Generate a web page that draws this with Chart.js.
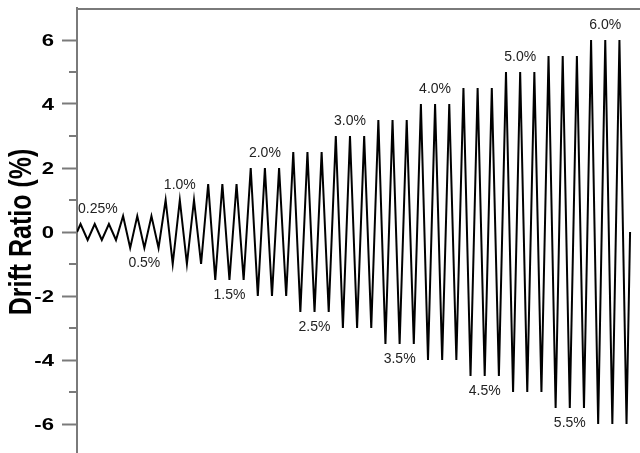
<!DOCTYPE html>
<html>
<head>
<meta charset="utf-8">
<script src="https://cdn.jsdelivr.net/npm/chart.js@4/dist/chart.umd.min.js"></script>
<style>
  html, body { margin: 0; padding: 0; background: #ffffff; }
  #wrap { width: 640px; height: 453px; }
</style>
</head>
<body>
<div id="wrap"><canvas id="c" width="640" height="453"></canvas></div>
<script>
// Cyclic loading protocol: drift amplitude per level and number of cycles at each level
const levelLabels = ['0.25%', '0.5%', '1.0%', '1.5%', '2.0%', '2.5%', '3.0%', '3.5%', '4.0%', '4.5%', '5.0%', '5.5%', '6.0%'];
const amplitudes = [0.25, 0.5, 1.0, 1.5, 2.0, 2.5, 3.0, 3.5, 4.0, 4.5, 5.0, 5.5, 6.0];
const cyclesPerLevel = [3, 3, 3, 3, 3, 3, 3, 3, 3, 3, 3, 3, 3];
const yTickValues = [-6, -5, -4, -3, -2, -1, 0, 1, 2, 3, 4, 5, 6];
const yMajorLabels = [-6, -4, -2, 0, 2, 4, 6];

// Drift history: start at zero, peak / trough of every cycle, back to zero at the end
const history = [{ x: 0, y: 0 }];
const labelAnchors = [];
let cycle = 0;
amplitudes.forEach((amp, i) => {
  const n = cyclesPerLevel[i];
  for (let k = 0; k < n; k++) {
    history.push({ x: cycle + k + 0.25, y: amp });
    history.push({ x: cycle + k + 0.75, y: -amp });
  }
  const mid = cycle + Math.floor(n / 2);
  const up = i % 2 === 0;
  labelAnchors.push({ text: levelLabels[i], x: up ? mid + 0.25 : mid + 0.75, y: up ? amp : -amp, up });
  cycle += n;
});
history.push({ x: cycle, y: 0 });

const axisGray = '#7a7a7a';
const boldFont = '"Liberation Sans", Arial, sans-serif';

const decorations = {
  id: 'decorations',
  afterDraw(chart) {
    const { ctx, chartArea, scales } = chart;
    const ys = scales.y, xs = scales.x;
    ctx.save();
    // top frame line
    ctx.strokeStyle = axisGray;
    ctx.lineWidth = 2;
    ctx.beginPath();
    ctx.moveTo(chartArea.left, chartArea.top + 1);
    ctx.lineTo(chartArea.right, chartArea.top + 1);
    ctx.stroke();
    // minor ticks on odd values
    yTickValues.filter(v => v % 2 !== 0).forEach(v => {
      const py = Math.round(ys.getPixelForValue(v));
      ctx.beginPath();
      ctx.moveTo(chartArea.left - 8, py);
      ctx.lineTo(chartArea.left, py);
      ctx.stroke();
    });
    // wide bold tick labels
    ctx.fillStyle = '#000000';
    ctx.font = 'bold 17px ' + boldFont;
    ctx.textAlign = 'right';
    ctx.textBaseline = 'middle';
    yMajorLabels.forEach(v => {
      ctx.save();
      ctx.translate(chartArea.left - 23, ys.getPixelForValue(v) + 1);
      ctx.scale(1.3, 1);
      ctx.fillText(String(v), 0, 0);
      ctx.restore();
    });
    // level annotations
    ctx.fillStyle = '#222222';
    ctx.font = '14px "Liberation Sans", Arial, sans-serif';
    ctx.textAlign = 'center';
    ctx.textBaseline = 'middle';
    labelAnchors.forEach(a => {
      const w = ctx.measureText(a.text).width;
      let px = xs.getPixelForValue(a.x);
      px = Math.max(px, chartArea.left + w / 2 + 1);
      const py = ys.getPixelForValue(a.y) + (a.up ? -15 : 15);
      ctx.fillText(a.text, px, py);
    });
    // y axis title
    ctx.fillStyle = '#000000';
    ctx.font = 'bold 25px ' + boldFont;
    ctx.translate(31, ys.getPixelForValue(0));
    ctx.scale(1.22, 1);
    ctx.rotate(-Math.PI / 2);
    ctx.textAlign = 'center';
    ctx.textBaseline = 'alphabetic';
    ctx.fillText('Drift Ratio (%)', 0, 0);
    ctx.restore();
  }
};

new Chart(document.getElementById('c'), {
  type: 'line',
  data: {
    datasets: [{
      data: history,
      borderColor: '#000000',
      borderWidth: 2,
      pointRadius: 0,
      fill: false,
      tension: 0
    }]
  },
  options: {
    responsive: false,
    animation: false,
    devicePixelRatio: 1,
    layout: { padding: { top: 8, right: 0, bottom: 0, left: 0 } },
    plugins: { legend: { display: false }, tooltip: { enabled: false } },
    scales: {
      x: {
        type: 'linear',
        display: false,
        min: 0,
        max: 39.7
      },
      y: {
        type: 'linear',
        min: -6.90625,
        max: 7,
        afterFit(scale) {
          scale.width = 77;
          scale.paddingTop = 0;
          scale.paddingBottom = 0;
        },
        afterBuildTicks(scale) { scale.ticks = yTickValues.map(v => ({ value: v })); },
        border: { display: true, color: axisGray, width: 2 },
        grid: {
          drawOnChartArea: false,
          drawTicks: true,
          tickLength: 15,
          tickWidth: 2,
          tickColor: ctx => (ctx.tick && ctx.tick.value % 2 === 0) ? axisGray : 'rgba(0,0,0,0)'
        },
        ticks: {
          display: false
        }
      }
    }
  },
  plugins: [decorations]
});
</script>
</body>
</html>
